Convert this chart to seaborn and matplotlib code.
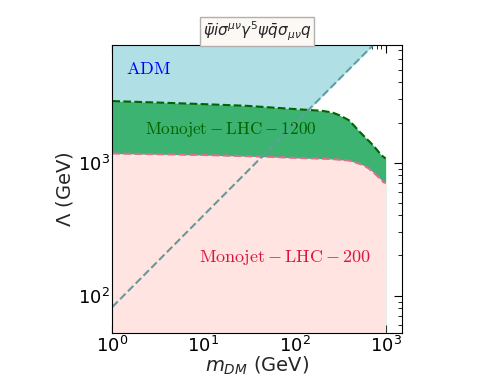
import matplotlib
matplotlib.use("Agg")
import matplotlib.pyplot as plt
import numpy as np
import pandas as pd
import seaborn as sns

# ADM boundary (dashed diagonal)
m_adm = [1, 10, 100, 1000, 1500]
lam_adm = [82, 400, 1950, 9500, 12500]

# Monojet LHC 1200 boundary
m_1200 = [1, 3, 10, 30, 114, 200, 260, 320, 400, 520, 728, 899, 1000]
lam_1200 = [2900, 2830, 2750, 2670, 2510, 2450, 2380, 2250, 2070, 1700, 1349, 1135, 1072]

# Monojet LHC 200 boundary
m_200 = [1, 10, 50, 120, 250, 400, 550, 650, 800, 940, 1000]
lam_200 = [1170, 1140, 1105, 1080, 1065, 1035, 965, 905, 800, 715, 700]

X_LIM = (1, 1500)
Y_LIM = (52, 7700)

sns.set_style("ticks")
plt.rcParams.update({
    "xtick.direction": "in", "ytick.direction": "in",
    "xtick.top": True, "ytick.right": True,
    "xtick.minor.visible": True, "ytick.minor.visible": True,
    "axes.edgecolor": "black", "xtick.color": "black", "ytick.color": "black",
})
plt.rcParams["font.family"] = ["DejaVu Sans"]

fig = plt.figure(figsize=(5.01, 3.76), dpi=100)
ax = fig.add_axes([0.2242, 0.1136, 0.5776, 0.7676])

adm = pd.DataFrame({"m": m_adm, "lam": lam_adm})
d1200 = pd.DataFrame({"m": m_1200, "lam": lam_1200})
d200 = pd.DataFrame({"m": m_200, "lam": lam_200})

# filled regions, drawn back to front
ax.fill_between(adm["m"], adm["lam"], Y_LIM[1] * 2, color="powderblue", lw=0)
ax.fill_between(d1200["m"], Y_LIM[0] / 2, d1200["lam"], color="mediumseagreen", lw=0)
ax.fill_between(d200["m"], Y_LIM[0] / 2, d200["lam"], color="mistyrose", lw=0)

sns.lineplot(data=d1200, x="m", y="lam", ax=ax, color="darkgreen", lw=1.5, ls="--")
sns.lineplot(data=d200, x="m", y="lam", ax=ax, color="palevioletred", lw=1.5, ls="--")
sns.lineplot(data=adm, x="m", y="lam", ax=ax, color="cadetblue", lw=1.5, ls="--")

ax.set_xscale("log")
ax.set_yscale("log")
ax.set_xlim(*X_LIM)
ax.set_ylim(*Y_LIM)

ax.text(2.5, 5050, r"$\mathrm{ADM}$", color="blue", fontsize=13,
        ha="center", va="center", math_fontfamily="cm")
ax.text(19.8, 1774, r"$\mathrm{Monojet-LHC-1200}$", color="darkgreen", fontsize=12.3,
        ha="center", va="center", math_fontfamily="cm")
ax.text(79, 194, r"$\mathrm{Monojet-LHC-200}$", color="crimson", fontsize=13,
        ha="center", va="center", math_fontfamily="cm")

ax.set_title(r"$\bar{\psi} i\sigma^{\mu\nu}\gamma^5\psi\bar{q}\sigma_{\mu\nu}q$", fontsize=11,
             pad=6, bbox=dict(facecolor="#fcf8f3", edgecolor="#b0b0b0", boxstyle="square,pad=0.2"))
ax.set_xlabel(r"$m_{DM}$ (GeV)", fontsize=14, labelpad=-1)
ax.set_ylabel(r"$\Lambda$ (GeV)", fontsize=14, labelpad=2)
ax.tick_params(which="major", labelsize=13, length=6, pad=2)
ax.tick_params(which="minor", length=3)
ax.grid(False)

fig.savefig("out.png", dpi=100)
